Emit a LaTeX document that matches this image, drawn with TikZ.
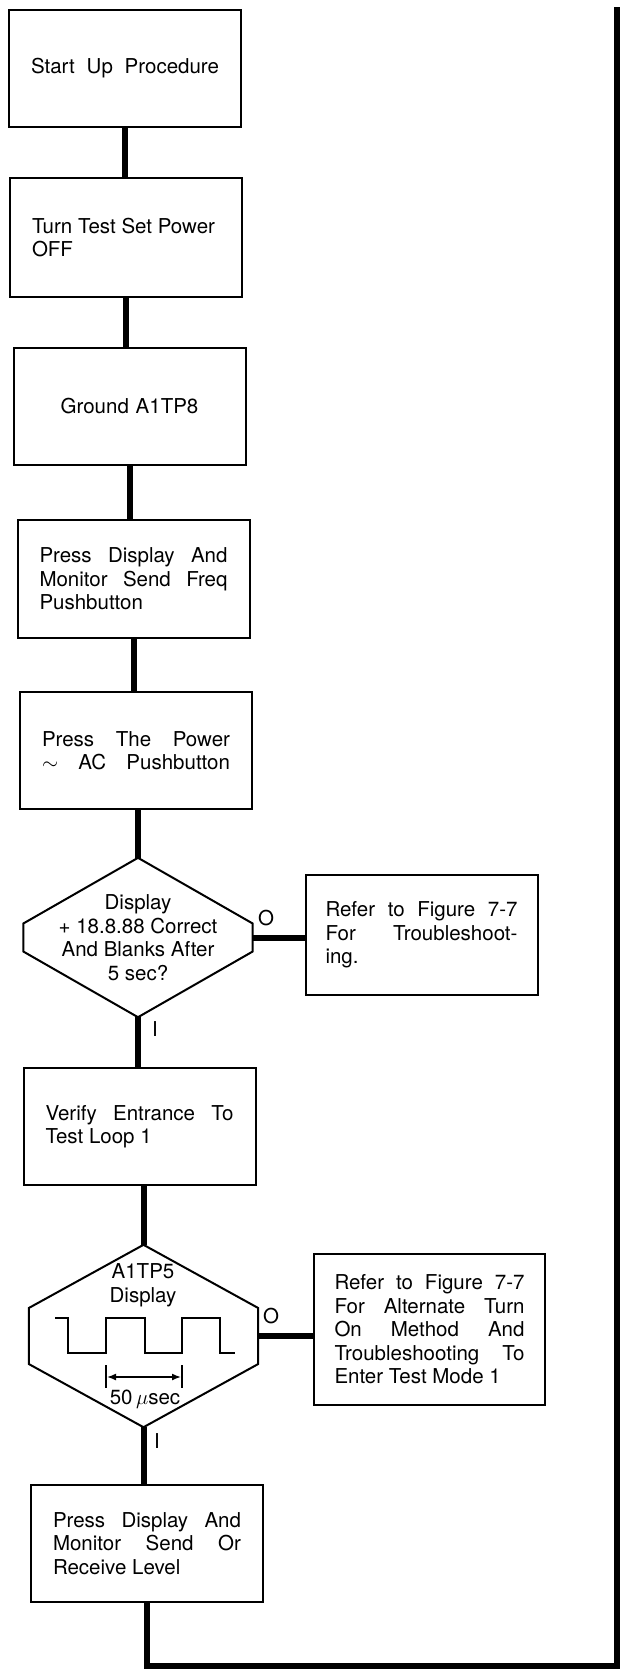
\documentclass[tikz,border=0pt]{standalone}
\usepackage{fontspec}
\setmainfont{TeX Gyre Heros}
\usetikzlibrary{arrows.meta}
\tolerance=9999
\hbadness=10000

\begin{document}
\begin{tikzpicture}[x=1pt, y=-1pt, >={Latex[length=9pt,width=7pt]},
    every node/.style={font=\fontsize{20.5}{23.5}\selectfont},
    stepbox/.style={draw, line width=2pt, minimum width=232pt, minimum height=117pt,
        text width=188pt, align=justify, inner sep=0pt},
    referbox/.style={stepbox, minimum width=232pt, text width=192pt},
    decision/.style={minimum width=229pt, minimum height=159pt, inner sep=0pt, align=center},
    flow/.style={line width=6pt},
    hexline/.style={line width=2pt}]
    \useasboundingbox (0,0) rectangle (622,1674);

    % Main column
    \node[stepbox] (start) at (125,68) {\makebox[\linewidth][s]{Start Up Procedure}};
    \node[stepbox, minimum height=119pt] (off) at (126,237.5) {Turn Test Set Power\\OFF};
    \node[stepbox, align=center] (ground) at (129.5,406.5) {Ground A1TP8};
    \node[stepbox, minimum height=118pt] (freq) at (133.5,579)
        {Press Display And\linebreak Monitor Send Freq\linebreak Pushbutton};
    \node[stepbox] (power) at (136,750.5)
        {Press The Power\linebreak \makebox[\linewidth][s]{$\sim$ AC Pushbutton}};
    \node[decision] (check) at (138,937.5)
        {Display\\+ 18.8.88 Correct\\And Blanks After\\5 sec?};
    \node[stepbox] (verify) at (139.5,1126.5) {Verify Entrance To\linebreak Test Loop 1};
    \node[decision, minimum height=182pt] (wave) at (143.5,1336) {};
    \node[stepbox] (level) at (147,1543.5)
        {Press Display And\linebreak Monitor Send Or\linebreak Receive Level};

    % Side boxes
    \node[referbox, minimum height=120pt] (fig1) at (421.5,935)
        {Refer to Figure 7-7\linebreak For Troubleshoot-\linebreak ing.};
    \node[referbox, minimum width=231pt, minimum height=151pt, text width=190pt] (fig2) at (429.5,1329.5)
        {Refer to Figure 7-7\linebreak For Alternate Turn\linebreak On Method And\linebreak
         Troubleshooting To\linebreak Enter Test Mode 1};

    % Hexagons
    \draw[hexline] (check.north) -- ([yshift=14pt]check.east) -- ([yshift=-14pt]check.east)
        -- (check.south) -- ([yshift=-14pt]check.west) -- ([yshift=14pt]check.west) -- cycle;
    \draw[hexline] (wave.north) -- ([yshift=28pt]wave.east) -- ([yshift=-28pt]wave.east)
        -- (wave.south) -- ([yshift=-28pt]wave.west) -- ([yshift=28pt]wave.west) -- cycle;

    % Waveform inside the second hexagon
    \node[align=center] (tp5) at (143,1285) {A1TP5\\Display};
    \draw[hexline] (55,1318) -- (68,1318) -- (68,1353) -- (106,1353) -- (106,1318)
        -- (145,1318) -- (145,1353) -- (182,1353) -- (182,1318) -- (220,1318)
        -- (220,1353) -- (235,1353);
    \draw[line width=1.5pt] (106,1365) -- (106,1388);
    \draw[line width=1.5pt] (182,1365) -- (182,1388);
    \draw[<->, line width=1.5pt] (107,1377) -- (181,1377);
    \node (period) at (145,1399) {50\,$\mu$sec};

    % Connectors
    \draw[flow] (start.south) -- (start.south |- off.north);
    \draw[flow] (off.south) -- (off.south |- ground.north);
    \draw[flow] (ground.south) -- (ground.south |- freq.north);
    \draw[flow] (freq.south) -- (freq.south |- power.north);
    \draw[flow] (check.north |- power.south) -- (check.north);
    \draw[flow] (check.south) -- (check.south |- verify.north);
    \draw[flow] (check.east) -- (check.east -| fig1.west);
    \draw[flow] (wave.north |- verify.south) -- (wave.north);
    \draw[flow] (wave.east) -- (wave.east -| fig2.west);
    \draw[flow] (wave.south) -- (wave.south |- level.north);

    % Return path
    \coordinate (retb) at (level.south |- 0,1666);
    \coordinate (retr) at (617,1666);
    \coordinate (rett) at (617,7);
    \draw[flow] (level.south) -- (retb) -- (retr) -- (rett);

    % Branch labels
    \node (no1) at (266,918) {O};
    \node (yes1) at (155,1029) {I};
    \node (no2) at (271,1316) {O};
    \node (yes2) at (157,1441) {I};
\end{tikzpicture}
\end{document}
